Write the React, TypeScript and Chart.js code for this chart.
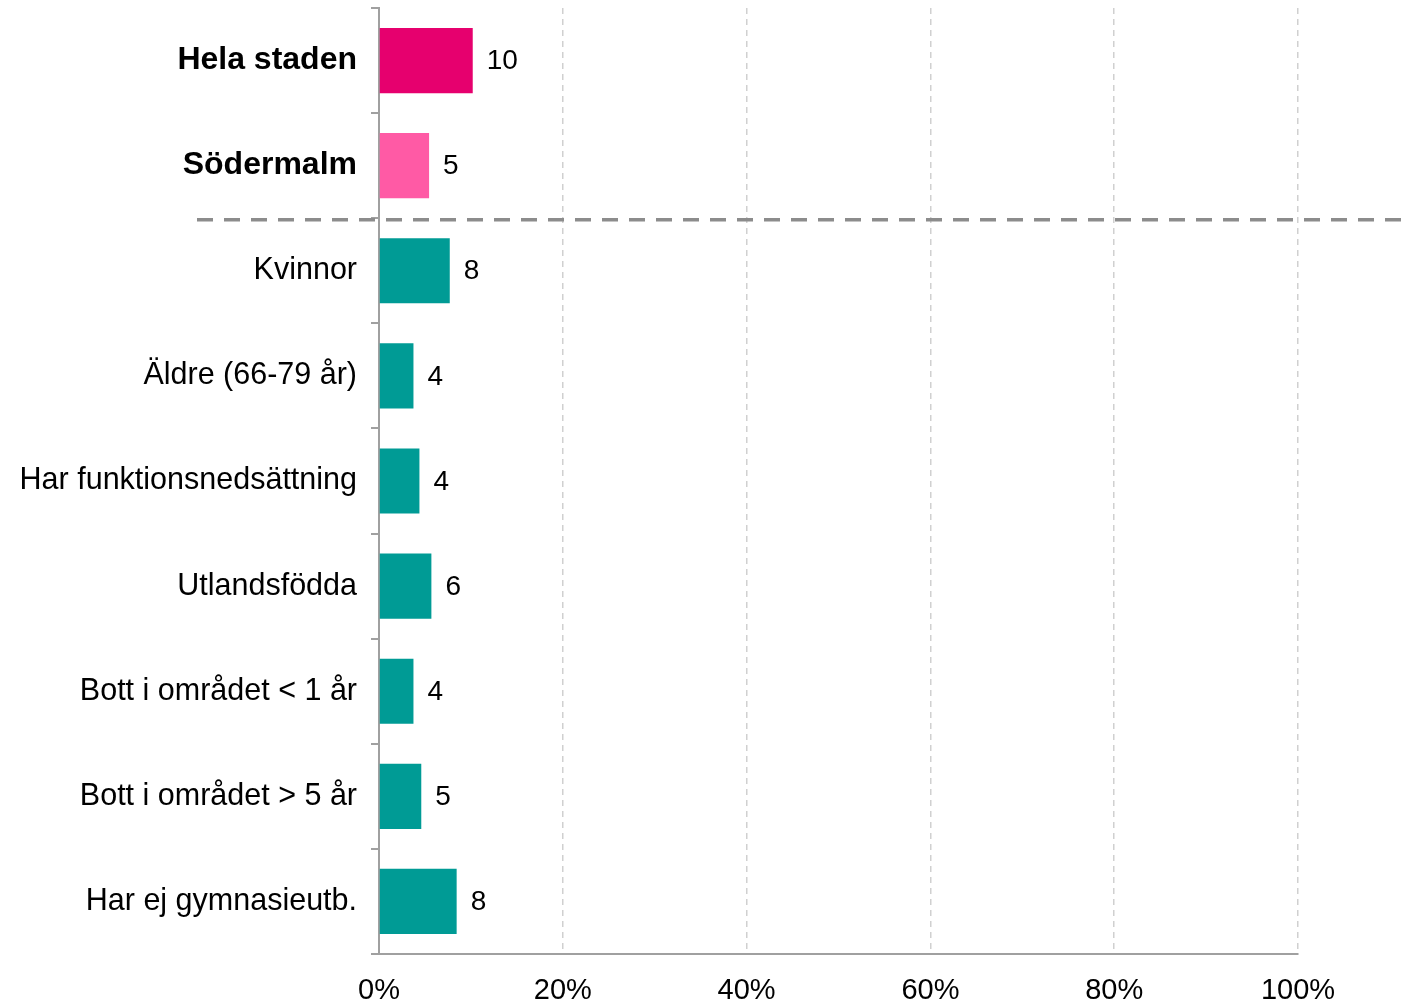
import React, { useEffect, useRef } from "react";
import { Chart, registerables } from "chart.js";

Chart.register(...registerables);

const categories = [
  "Hela staden",
  "Södermalm",
  "Kvinnor",
  "Äldre (66-79 år)",
  "Har funktionsnedsättning",
  "Utlandsfödda",
  "Bott i området < 1 år",
  "Bott i området > 5 år",
  "Har ej gymnasieutb.",
];
const values = [10.2, 5.45, 7.7, 3.75, 4.4, 5.7, 3.75, 4.6, 8.45];
const barColors = [
  "#E6006E",
  "#FF5AA5",
  "#009B95",
  "#009B95",
  "#009B95",
  "#009B95",
  "#009B95",
  "#009B95",
  "#009B95",
];
const xTicks = [0, 20, 40, 60, 80, 100];
const boldCount = 2;

const FONT = "'Liberation Sans', Arial, sans-serif";

const dataLabelPlugin = {
  id: "dataLabels",
  afterDatasetsDraw(chart: any) {
    const ctx = chart.ctx;
    const meta = chart.getDatasetMeta(0);
    ctx.save();
    ctx.font = `28px ${FONT}`;
    ctx.fillStyle = "#000";
    ctx.textAlign = "left";
    ctx.textBaseline = "middle";
    meta.data.forEach((bar: any, i: number) => {
      ctx.fillText(String(Math.round(values[i])), bar.x + 14, bar.y + 1);
    });
    ctx.restore();
  },
};

const separatorPlugin = {
  id: "separator",
  afterDraw(chart: any) {
    const ctx = chart.ctx;
    const y = chart.scales.y;
    const yy = (y.getPixelForValue(boldCount - 1) + y.getPixelForValue(boldCount)) / 2 + 1.5;
    ctx.save();
    ctx.strokeStyle = "#8C8C8C";
    ctx.lineWidth = 3.5;
    ctx.setLineDash([16, 11]);
    ctx.beginPath();
    ctx.moveTo(197, yy);
    ctx.lineTo(chart.width, yy);
    ctx.stroke();
    ctx.restore();
  },
};

export default function App() {
  const ref = useRef<HTMLCanvasElement>(null);
  useEffect(() => {
    document.body.style.margin = "0";
    const chart = new Chart(ref.current!, {
      type: "bar",
      data: {
        labels: categories,
        datasets: [
          {
            data: values,
            backgroundColor: barColors,
            barPercentage: 0.62,
            categoryPercentage: 1,
          },
        ],
      },
      options: {
        indexAxis: "y",
        animation: false,
        responsive: true,
        maintainAspectRatio: false,
        layout: { padding: { top: 8, right: 111, left: 0, bottom: 0 } },
        plugins: { legend: { display: false }, tooltip: { enabled: false } },
        scales: {
          x: {
            min: 0,
            max: 100,
            afterBuildTicks: (scale: any) => {
              scale.ticks = xTicks.map((v) => ({ value: v }));
            },
            afterFit: (scale: any) => {
              scale.height = 51;
              scale.paddingLeft = 0;
              scale.paddingRight = 0;
            },
            ticks: {
              callback: (v: any) => v + "%",
              color: "#000",
              font: { family: FONT, size: 29 },
              padding: 20,
              maxRotation: 0,
            },
            grid: {
              color: "#D0D0D0",
              lineWidth: 1.5,
              drawTicks: false,
              tickLength: 0,
            },
            border: { color: "#A0A0A0", width: 2, dash: [6, 5] },
          },
          y: {
            afterFit: (scale: any) => {
              scale.width = 379;
              scale.paddingTop = 0;
              scale.paddingBottom = 0;
            },
            ticks: {
              color: "#000",
              font: (c: any) => ({
                family: FONT,
                size: c.index < boldCount ? 32 : 30.5,
                weight: c.index < boldCount ? "bold" : "normal",
              }),
              padding: 14,
            },
            grid: {
              drawOnChartArea: false,
              drawTicks: true,
              tickLength: 8,
              color: "#A0A0A0",
              lineWidth: 2,
            },
            border: { color: "#A0A0A0", width: 2 },
          },
        },
      },
      plugins: [dataLabelPlugin, separatorPlugin],
    });
    return () => chart.destroy();
  }, []);
  return (
    <div style={{ position: "fixed", left: 0, top: 0, width: 1409, height: 1005 }}>
      <canvas ref={ref} />
    </div>
  );
}
